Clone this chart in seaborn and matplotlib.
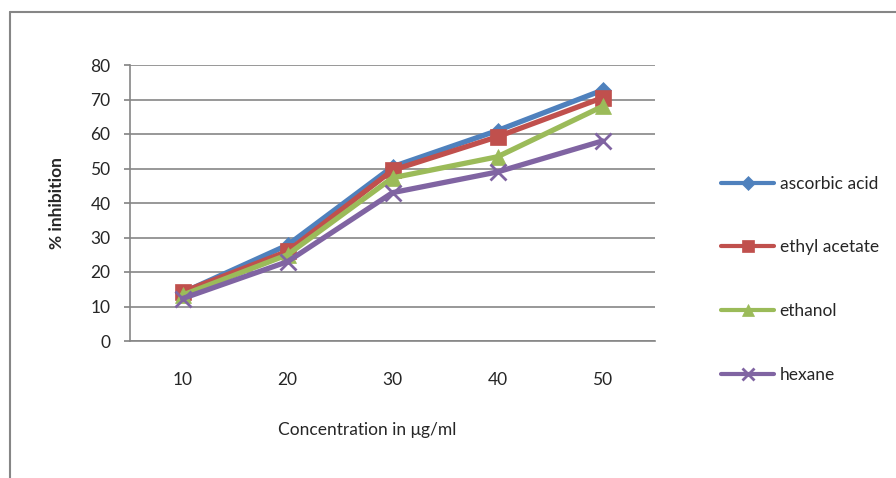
import matplotlib
matplotlib.use("Agg")
import matplotlib.pyplot as plt
import seaborn as sns
import pandas as pd
from matplotlib.lines import Line2D

concentrations = [10, 20, 30, 40, 50]
ascorbic_acid = [14, 27.8, 50.5, 61, 72.7]
ethyl_acetate = [14.2, 26, 49.5, 59.2, 70.5]
ethanol = [13.3, 25, 47.3, 53.4, 68]
hexane = [12.3, 23, 43, 49, 58]
series_names = ["ascorbic acid", "ethyl acetate", "ethanol", "hexane"]
y_ticks = [0, 10, 20, 30, 40, 50, 60, 70, 80]

colors = ["#4F81BD", "#C0504D", "#9BBB59", "#8064A2"]
markers = ["D", "s", "^", "x"]
msizes = [8, 12, 11, 12]

sns.set_theme(style="white")
plt.rcParams['font.family'] = ['Lato', 'DejaVu Sans']

rows = []
for name, vals in zip(series_names, [ascorbic_acid, ethyl_acetate, ethanol, hexane]):
    for c, v in zip(concentrations, vals):
        rows.append({"conc": c, "val": v, "series": name})
df = pd.DataFrame(rows)

fig = plt.figure(figsize=(8.96, 4.78), dpi=100)
ax = fig.add_axes([130/896, 1-341/478, 525/896, (341-65)/478])

for i, name in enumerate(series_names):
    sub = df[df["series"] == name]
    sns.lineplot(data=sub, x="conc", y="val", ax=ax, color=colors[i], lw=3.8,
                 marker=markers[i], markersize=msizes[i],
                 markeredgecolor=colors[i], markeredgewidth=2 if markers[i] == "x" else 0.5,
                 zorder=3+i, legend=False)

ax.set_xlim(5, 55)
ax.set_ylim(0, 80)
ax.set_yticks(y_ticks)
ax.set_xticks(concentrations)
ax.set_xticklabels([str(c) for c in concentrations])
ax.grid(axis="y", color="#868686", lw=1.2)
ax.set_axisbelow(True)
for s in ["top", "right"]:
    ax.spines[s].set_visible(False)
for s in ["left", "bottom"]:
    ax.spines[s].set_color("#868686")
    ax.spines[s].set_linewidth(1.2)
ax.tick_params(axis="y", left=True, length=4, color="#868686", labelsize=12.5, pad=10)
ax.tick_params(axis="x", bottom=False, labelsize=12.5, pad=16)
ax.set_xlabel("")
ax.set_ylabel("")

fig.text(57/896, 1-203/478, "% inhibition", rotation=90, ha="center", va="center",
         fontsize=12.5, fontweight="bold")
fig.text(367/896, 1-430/478, "Concentration in μg/ml", ha="center", va="center", fontsize=12.5)

# legend
handles = [Line2D([0], [0], color=colors[i], lw=3, marker=markers[i],
                  markersize=[7, 9, 8, 8][i], markeredgewidth=2 if markers[i] == "x" else 0.5)
           for i in range(4)]
leg = fig.legend(handles, series_names, loc="upper left",
                 bbox_to_anchor=(705/896, 1-160/478), frameon=False, fontsize=12.5,
                 labelspacing=2.75, handlelength=3.1, handletextpad=0.3)

# outer frame
fig.add_artist(Line2D([10/896, 10/896], [0, 1-12/478], color="#868686", lw=1.5,
                      transform=fig.transFigure))
fig.add_artist(Line2D([10/896, 1], [1-12/478, 1-12/478], color="#868686", lw=1.5,
                      transform=fig.transFigure))

fig.savefig("out.png", dpi=100)
